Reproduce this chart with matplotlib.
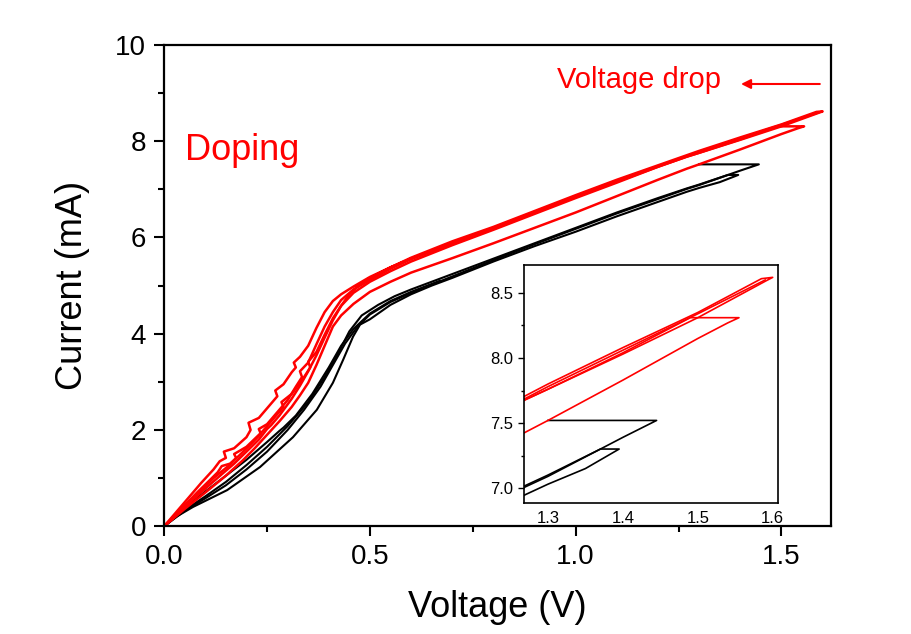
import matplotlib
matplotlib.use('Agg')
import matplotlib.pyplot as plt
from matplotlib.ticker import MultipleLocator

plt.rcParams['font.family'] = ['Liberation Sans', 'DejaVu Sans']

# red sweeps (doping)
red1_v = [0, 0.03, 0.06, 0.09, 0.12, 0.135, 0.15, 0.145, 0.17, 0.20, 0.21, 0.205, 0.23, 0.26, 0.275, 0.27, 0.29,
          0.31, 0.32, 0.315, 0.33, 0.35, 0.37, 0.39, 0.41, 0.43, 0.46, 0.50, 0.55, 0.60, 0.70, 0.80, 0.90, 1.00,
          1.10, 1.20, 1.30, 1.40, 1.50, 1.585, 1.60,
          1.59, 1.50, 1.40, 1.30, 1.27, 1.20, 1.10, 1.00, 0.90, 0.80, 0.70, 0.60, 0.55, 0.50, 0.47, 0.45, 0.43,
          0.41, 0.39, 0.37, 0.35, 0.33, 0.31, 0.28, 0.26, 0.25, 0.23, 0.20, 0.17, 0.14, 0.10, 0.06, 0.03, 0]
red1_i = [0, 0.30, 0.60, 0.90, 1.18, 1.35, 1.42, 1.55, 1.62, 1.85, 2.00, 2.15, 2.25, 2.55, 2.70, 2.82, 2.95,
          3.20, 3.30, 3.40, 3.52, 3.75, 4.12, 4.45, 4.68, 4.82, 4.98, 5.18, 5.38, 5.58, 5.92, 6.22, 6.55, 6.88,
          7.20, 7.50, 7.80, 8.08, 8.35, 8.61, 8.62,
          8.59, 8.31, 8.03, 7.76, 7.68, 7.47, 7.16, 6.85, 6.52, 6.19, 5.88, 5.56, 5.38, 5.16, 4.98, 4.82, 4.58,
          4.28, 3.92, 3.55, 3.22, 2.92, 2.65, 2.30, 2.10, 2.02, 1.80, 1.55, 1.30, 1.08, 0.78, 0.48, 0.24, 0]

red2_v = [0, 0.04, 0.08, 0.11, 0.13, 0.14, 0.16, 0.18, 0.21, 0.235, 0.23, 0.25, 0.28, 0.30, 0.32, 0.335, 0.33,
          0.35, 0.37, 0.39, 0.41, 0.43, 0.46, 0.50, 0.55, 0.60, 0.70, 0.80, 0.90, 1.00, 1.10, 1.20, 1.30, 1.40,
          1.50, 1.59]
red2_i = [0, 0.35, 0.70, 0.95, 1.12, 1.25, 1.30, 1.45, 1.70, 1.92, 2.02, 2.12, 2.42, 2.62, 2.90, 3.10, 3.22,
          3.40, 3.78, 4.15, 4.45, 4.70, 4.92, 5.12, 5.35, 5.55, 5.87, 6.20, 6.53, 6.86, 7.18, 7.48, 7.78, 8.06,
          8.34, 8.60]

red3_v = [0, 0.04, 0.08, 0.12, 0.16, 0.175, 0.17, 0.20, 0.24, 0.27, 0.29, 0.285, 0.31, 0.34, 0.355, 0.35, 0.37,
          0.39, 0.41, 0.43, 0.46, 0.50, 0.55, 0.60, 0.70, 0.80, 0.90, 1.00, 1.10, 1.20, 1.27, 1.30, 1.40, 1.49,
          1.555, 1.54, 1.50, 1.40, 1.30, 1.27, 1.20, 1.10, 1.00, 0.90, 0.80, 0.70, 0.60, 0.55, 0.50, 0.46, 0.43,
          0.41, 0.39, 0.37, 0.35, 0.33, 0.31, 0.28, 0.25, 0.22, 0.19, 0.15, 0.10, 0.05, 0]
red3_i = [0, 0.33, 0.66, 1.00, 1.28, 1.42, 1.50, 1.65, 1.98, 2.28, 2.48, 2.58, 2.75, 3.10, 3.30, 3.42, 3.62,
          3.98, 4.32, 4.58, 4.85, 5.08, 5.30, 5.50, 5.84, 6.16, 6.49, 6.82, 7.14, 7.47, 7.68, 7.76, 8.04, 8.31,
          8.31, 8.27, 8.15, 7.83, 7.52, 7.43, 7.20, 6.86, 6.52, 6.20, 5.88, 5.57, 5.27, 5.08, 4.87, 4.62, 4.38,
          4.15, 3.75, 3.35, 2.98, 2.72, 2.48, 2.18, 1.90, 1.62, 1.36, 1.05, 0.70, 0.36, 0]

# black sweeps
black1_v = [0, 0.03, 0.07, 0.10, 0.15, 0.20, 0.25, 0.30, 0.35, 0.39, 0.42, 0.45, 0.48, 0.52, 0.56, 0.60, 0.65,
            0.70, 0.80, 0.90, 1.00, 1.10, 1.20, 1.27, 1.30, 1.37,
            1.395, 1.35, 1.30, 1.27, 1.20, 1.10, 1.00, 0.90, 0.80, 0.70, 0.65, 0.60, 0.55, 0.50, 0.476, 0.459,
            0.435, 0.41, 0.371, 0.313, 0.233, 0.153, 0.07, 0.03, 0]
black1_i = [0, 0.22, 0.45, 0.62, 0.92, 1.27, 1.65, 2.08, 2.58, 3.10, 3.55, 4.05, 4.38, 4.60, 4.78, 4.92, 5.08,
            5.24, 5.56, 5.88, 6.20, 6.52, 6.82, 7.02, 7.10, 7.30,
            7.30, 7.15, 7.03, 6.95, 6.74, 6.44, 6.12, 5.82, 5.50, 5.16, 5.00, 4.82, 4.60, 4.30, 4.19, 3.94,
            3.46, 2.98, 2.42, 1.85, 1.23, 0.75, 0.40, 0.20, 0]

black2_v = [1.30, 1.445, 1.40, 1.37, 1.30, 1.27, 1.20, 1.10, 1.00, 0.90, 0.80, 0.70, 0.60, 0.55, 0.50, 0.47,
            0.44, 0.41, 0.38, 0.34, 0.30, 0.25, 0.20, 0.15, 0.10, 0.05, 0]
black2_i = [7.52, 7.52, 7.39, 7.30, 7.09, 7.01, 6.80, 6.50, 6.18, 5.86, 5.53, 5.19, 4.85, 4.66, 4.40, 4.15,
            3.80, 3.35, 2.90, 2.42, 2.00, 1.55, 1.18, 0.85, 0.58, 0.32, 0]

black3_v = [0, 0.05, 0.10, 0.15, 0.20, 0.25, 0.28, 0.29, 0.32, 0.36, 0.40, 0.43, 0.46, 0.50, 0.55, 0.60, 0.67]
black3_i = [0, 0.38, 0.72, 1.05, 1.38, 1.75, 1.98, 2.05, 2.30, 2.75, 3.30, 3.75, 4.10, 4.42, 4.68, 4.87, 5.10]

red_traces = [(red1_v, red1_i), (red2_v, red2_i), (red3_v, red3_i)]
black_traces = [(black1_v, black1_i), (black2_v, black2_i), (black3_v, black3_i)]

fig = plt.figure(figsize=(9.12, 6.34), dpi=100)
ax = fig.add_axes([0.18, 0.170, 0.731, 0.759])

for v, i in black_traces:
    ax.plot(v, i, color='black', lw=1.5)
for v, i in red_traces:
    ax.plot(v, i, color='red', lw=1.8)

ax.set_xlim(0, 1.62)
ax.set_ylim(0, 10)
ax.xaxis.set_major_locator(MultipleLocator(0.5))
ax.xaxis.set_minor_locator(MultipleLocator(0.25))
ax.yaxis.set_major_locator(MultipleLocator(2))
ax.yaxis.set_minor_locator(MultipleLocator(1))
ax.xaxis.set_major_formatter(plt.FormatStrFormatter('%.1f'))
ax.tick_params(which='major', length=7, width=1.5, labelsize=20, direction='out', pad=6)
ax.tick_params(which='minor', length=4, width=1.5, direction='out')
for s in ax.spines.values():
    s.set_linewidth(1.6)
ax.set_xlabel('Voltage (V)', fontsize=26, labelpad=14)
ax.set_ylabel('Current (mA)', fontsize=26, labelpad=18)

ax.text(0.05, 7.62, 'Doping', color='red', fontsize=26)
ax.text(0.955, 9.1, 'Voltage drop', color='red', fontsize=21)
ax.annotate('', xy=(1.395, 9.19), xytext=(1.60, 9.19),
            arrowprops=dict(arrowstyle='-|>', color='red', lw=1.5, mutation_scale=14))

# inset
axin = fig.add_axes([0.5746, 0.2066, 0.2784, 0.3754])
for v, i in black_traces:
    axin.plot(v, i, color='black', lw=1.2)
for v, i in red_traces:
    axin.plot(v, i, color='red', lw=1.2)
axin.set_xlim(1.268, 1.607)
axin.set_ylim(6.885, 8.715)
axin.xaxis.set_major_locator(MultipleLocator(0.1))
axin.yaxis.set_major_locator(MultipleLocator(0.5))
axin.yaxis.set_minor_locator(MultipleLocator(0.25))
axin.tick_params(axis='x', length=0, labelsize=12, pad=6)
axin.tick_params(axis='y', which='major', length=4, width=1, labelsize=12, direction='out')
axin.tick_params(axis='y', which='minor', length=2.5, width=1, direction='out')
for s in axin.spines.values():
    s.set_linewidth(1.2)

fig.savefig('out.png', dpi=100)
